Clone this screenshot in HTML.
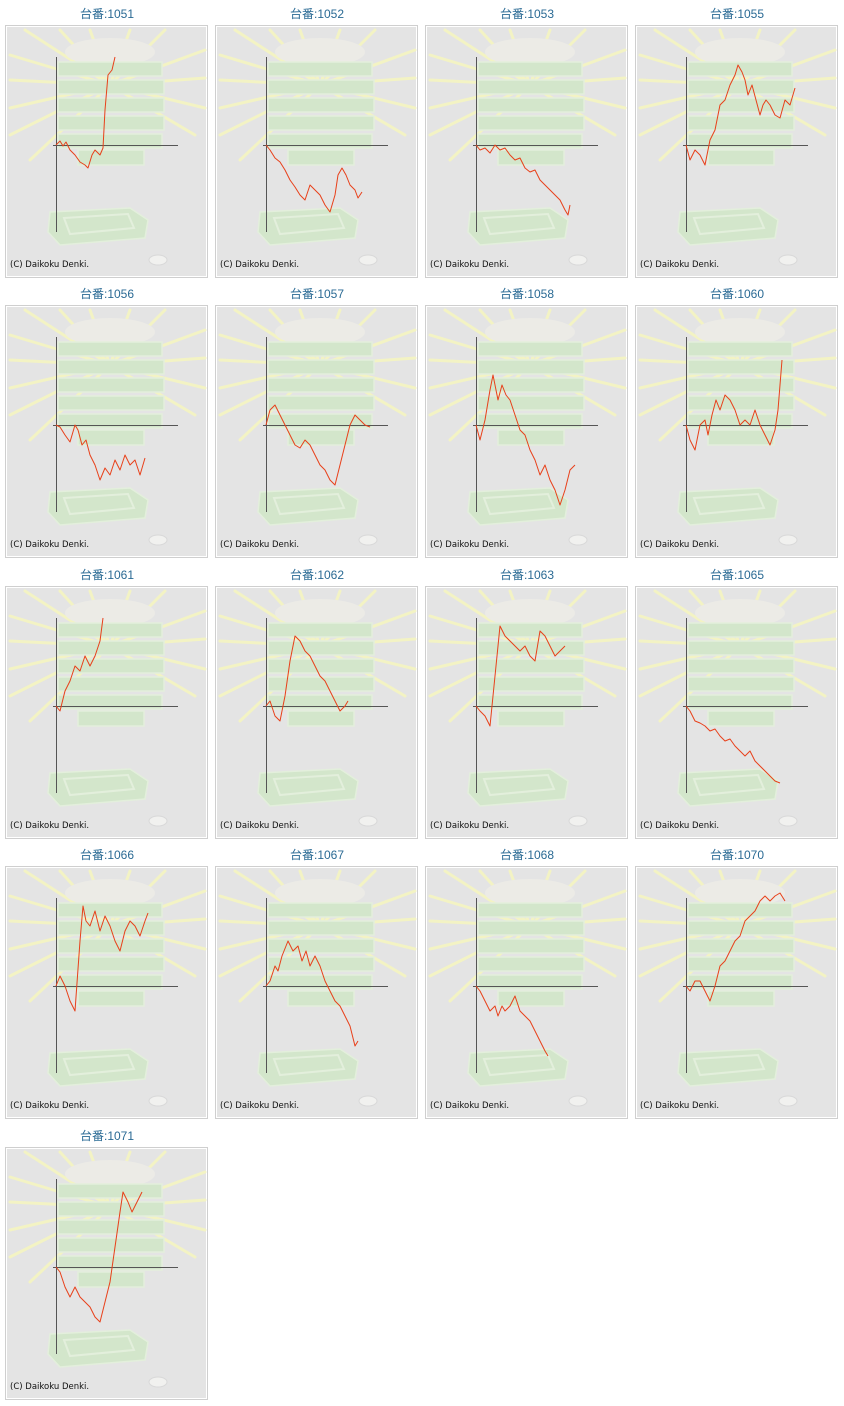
<!DOCTYPE html>
<html><head><meta charset="utf-8"><style>
html,body{margin:0;padding:0;background:#fff;width:844px;height:1406px;overflow:hidden}
svg{display:block}
.t{font-family:"Liberation Sans","Noto Sans CJK JP",sans-serif;font-size:12px;fill:#2a6a94;text-anchor:middle}
.c{font-family:"DejaVu Sans","Liberation Sans",sans-serif;font-size:8.5px;fill:#111}
.s{fill:none;stroke:#e8401a;stroke-width:1;stroke-linejoin:round}
.ax{stroke:#555;stroke-width:1}
</style></head><body>
<svg width="844" height="1406" viewBox="0 0 844 1406" xmlns="http://www.w3.org/2000/svg">
<defs>
<g id="bg">
<rect x="5.5" y="25.5" width="202" height="252" fill="#fff" stroke="#cfcfcf"/>
<rect x="7" y="27" width="199" height="249" fill="#e4e4e4"/>
<g stroke="#f3f3c4" stroke-width="3" stroke-linecap="round">
<line x1="110" y1="85" x2="10" y2="55"/><line x1="110" y1="85" x2="10" y2="80"/>
<line x1="110" y1="85" x2="10" y2="108"/><line x1="110" y1="85" x2="10" y2="135"/>
<line x1="110" y1="85" x2="30" y2="160"/><line x1="110" y1="85" x2="205" y2="50"/>
<line x1="110" y1="85" x2="205" y2="78"/><line x1="110" y1="85" x2="205" y2="108"/>
<line x1="110" y1="85" x2="195" y2="135"/><line x1="110" y1="85" x2="60" y2="30"/>
<line x1="110" y1="85" x2="90" y2="30"/><line x1="110" y1="85" x2="130" y2="30"/>
<line x1="110" y1="85" x2="165" y2="30"/><line x1="110" y1="85" x2="25" y2="30"/>
</g>
<ellipse cx="110" cy="52" rx="45" ry="14" fill="#ecebe6"/>
<g fill="#d3e6cb" stroke="#e3efdc" stroke-width="1.5">
<rect x="78" y="150" width="66" height="15"/>
<rect x="58" y="62" width="104" height="14"/>
<rect x="58" y="80" width="106" height="14"/>
<rect x="58" y="98" width="106" height="14"/>
<rect x="58" y="116" width="106" height="14"/>
<rect x="58" y="134" width="104" height="14"/>
<path d="M50 212 L130 208 L148 220 L145 238 L60 245 L48 232 Z"/>
</g>
<path d="M64 218 L128 214 L134 228 L70 234 Z" fill="none" stroke="#e3efdc" stroke-width="2"/>
<ellipse cx="158" cy="260" rx="9" ry="5" fill="#f1f1ef" stroke="#d8d8d8"/>
<line class="ax" x1="56.5" y1="57" x2="56.5" y2="232"/>
<line class="ax" x1="53" y1="145.5" x2="178" y2="145.5"/>
<text class="c" x="10" y="267">(C) Daikoku Denki.</text>
</g>
</defs>

<g><use href="#bg"/><text class="t" x="107" y="18">台番:1051</text>
<polyline class="s" points="56,145 60,141 63,146 66,142 70,150 75,155 80,162 85,165 88,168 92,155 95,150 100,155 103,148 105,110 108,75 112,70 115,57"/></g>
<g transform="translate(210,0)"><use href="#bg"/><text class="t" x="107" y="18">台番:1052</text>
<polyline class="s" points="56,145 60,150 65,158 70,162 75,170 80,180 85,187 90,195 95,200 100,185 105,190 110,195 115,205 120,212 125,195 128,175 132,168 136,175 140,185 145,190 148,198 152,192"/></g>
<g transform="translate(420,0)"><use href="#bg"/><text class="t" x="107" y="18">台番:1053</text>
<polyline class="s" points="56,145 60,150 65,148 70,153 75,145 80,150 85,148 90,155 95,160 100,158 105,168 110,172 115,170 120,180 125,185 130,190 135,195 140,200 145,210 148,215 150,205"/></g>
<g transform="translate(630,0)"><use href="#bg"/><text class="t" x="107" y="18">台番:1055</text>
<polyline class="s" points="56,145 60,160 65,150 70,155 75,165 80,140 85,130 90,105 95,100 100,85 105,75 108,65 112,72 115,80 118,95 122,85 126,100 130,115 133,105 136,100 140,105 145,115 150,118 155,100 160,105 165,88"/></g>

<g transform="translate(0,280)"><use href="#bg"/><text class="t" x="107" y="18">台番:1056</text>
<polyline class="s" points="56,145 60,147 65,155 70,162 75,145 78,150 82,165 86,160 90,175 95,185 100,200 105,188 110,195 115,180 120,190 125,175 130,185 135,180 140,195 145,178"/></g>
<g transform="translate(210,280)"><use href="#bg"/><text class="t" x="107" y="18">台番:1057</text>
<polyline class="s" points="56,145 60,130 65,125 70,135 75,145 80,155 85,165 90,168 95,160 100,165 105,175 110,185 115,190 120,200 125,205 130,185 135,165 140,145 145,135 150,140 155,145 160,147"/></g>
<g transform="translate(420,280)"><use href="#bg"/><text class="t" x="107" y="18">台番:1058</text>
<polyline class="s" points="56,145 60,160 65,140 70,110 73,95 78,120 82,105 86,115 90,120 95,135 100,150 105,155 110,170 115,180 120,195 125,185 130,200 135,210 140,225 145,210 150,190 155,185"/></g>
<g transform="translate(630,280)"><use href="#bg"/><text class="t" x="107" y="18">台番:1060</text>
<polyline class="s" points="56,145 60,160 65,170 70,145 75,140 78,155 82,135 86,120 90,130 95,115 100,120 105,130 110,145 115,140 120,145 125,130 130,145 135,155 140,165 145,150 148,130 152,80"/></g>

<g transform="translate(0,561)"><use href="#bg"/><text class="t" x="107" y="18">台番:1061</text>
<polyline class="s" points="56,145 60,150 65,130 70,120 75,105 80,110 85,95 90,105 95,95 100,80 103,57"/></g>
<g transform="translate(210,561)"><use href="#bg"/><text class="t" x="107" y="18">台番:1062</text>
<polyline class="s" points="56,145 60,140 65,155 70,160 75,135 80,100 85,75 90,80 95,90 100,95 105,105 110,115 115,120 120,130 125,140 130,150 135,145 138,140"/></g>
<g transform="translate(420,561)"><use href="#bg"/><text class="t" x="107" y="18">台番:1063</text>
<polyline class="s" points="56,145 60,150 65,155 70,165 75,115 80,65 85,75 90,80 95,85 100,90 105,85 110,95 115,100 120,70 125,75 130,85 135,95 140,90 145,85"/></g>
<g transform="translate(630,561)"><use href="#bg"/><text class="t" x="107" y="18">台番:1065</text>
<polyline class="s" points="56,145 60,150 65,160 70,162 75,165 80,170 85,168 90,175 95,180 100,178 105,185 110,190 115,195 120,190 125,200 130,205 135,210 140,215 145,220 150,222"/></g>

<g transform="translate(0,841)"><use href="#bg"/><text class="t" x="107" y="18">台番:1066</text>
<polyline class="s" points="56,145 60,135 65,145 70,160 75,170 80,100 83,65 86,80 90,85 95,70 100,90 105,75 110,85 115,100 120,110 125,90 130,80 135,85 140,95 145,80 148,72"/></g>
<g transform="translate(210,841)"><use href="#bg"/><text class="t" x="107" y="18">台番:1067</text>
<polyline class="s" points="56,145 60,140 65,125 68,130 72,115 78,100 83,110 88,105 92,120 96,110 100,125 105,115 110,125 115,140 120,150 125,160 130,165 135,175 140,185 145,205 148,200"/></g>
<g transform="translate(420,841)"><use href="#bg"/><text class="t" x="107" y="18">台番:1068</text>
<polyline class="s" points="56,145 60,150 65,160 70,170 75,165 78,175 82,165 85,170 90,165 95,155 100,170 105,175 110,180 115,190 120,200 125,210 128,215"/></g>
<g transform="translate(630,841)"><use href="#bg"/><text class="t" x="107" y="18">台番:1070</text>
<polyline class="s" points="56,145 60,150 65,140 70,140 75,150 80,160 85,145 90,125 95,120 100,110 105,100 110,95 115,80 120,75 125,70 130,60 135,55 140,60 145,55 150,52 155,60"/></g>

<g transform="translate(0,1122)"><use href="#bg"/><text class="t" x="107" y="18">台番:1071</text>
<polyline class="s" points="56,145 60,150 65,165 70,175 75,165 80,175 85,180 90,185 95,195 100,200 105,180 110,160 115,125 120,90 123,70 128,80 132,90 137,80 142,70"/></g>
</svg>
</body></html>
